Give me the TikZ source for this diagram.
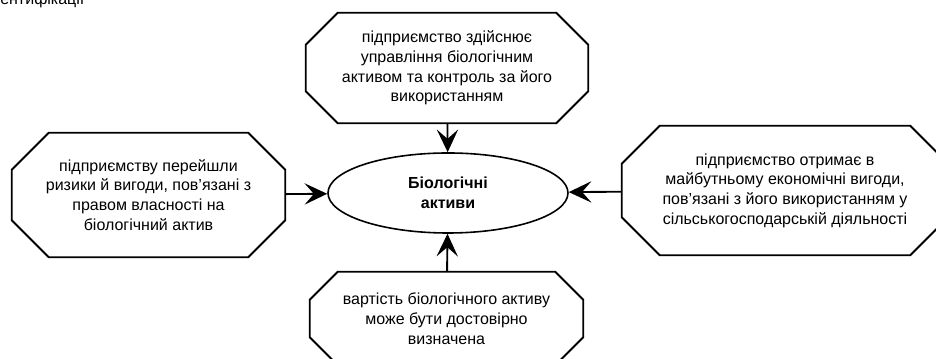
\documentclass[tikz,border=0pt]{standalone}
\usepackage{fontspec}
\setmainfont{Liberation Sans}
\usetikzlibrary{scopes,calc,arrows.meta,shapes.geometric}

\begin{document}
\begin{tikzpicture}[
    x=0.75pt, y=0.75pt,
    txt/.style={font=\fontsize{12}{14.8}\selectfont, align=center, inner sep=0pt},
    box/.style 2 args={txt, rectangle, minimum width=#1, minimum height=#2},
    frame/.style={draw=black, line width=1.4pt, line join=miter},
    core/.style={ellipse, draw=black, line width=1.2pt, minimum width=180pt, minimum height=60pt,
        inner sep=0pt, align=center, font=\fontsize{12}{14.8}\selectfont\bfseries},
    arrow/.style={-{Stealth[length=17pt,width=16pt,inset=7pt]}, line width=1.4pt},
]

    \useasboundingbox (0,0) rectangle (936,359);

    %%%
    % cut line of the text above
    \node[txt, anchor=base west] (frag) at (0,354) {ентифікації};

    %%%
    % centre
    \node[core] (bio) at (448,166) {Біологічні\\активи};

    %%%
    % conditions round it
    \node[box={211.5pt}{82.5pt}] (ctrl) at (447,291)
        {підприємство здійснює\\управління біологічним\\активом та контроль за його\\використанням};
    \node[box={204.75pt}{93pt}] (risk) at (148.5,164)
        {підприємству перейшли\\ризики й вигоди, пов'язані з\\правом власності на\\біологічний актив};
    \node[box={244.5pt}{96.75pt}] (benefit) at (785,168.5)
        {підприємство отримає в\\майбутньому економічні вигоди,\\пов'язані з його використанням у\\сільськогосподарській діяльності};
    \node[box={204.75pt}{69.75pt}] (cost) at (446.5,40.5)
        {вартість біологічного активу\\може бути достовірно\\визначена};

    {[arrow]
        \draw (ctrl) -- (bio);
        \draw (risk) -- (bio);
        \draw (benefit) -- (bio);
        \draw (cost) -- (bio);
    }

    % octagon frames
    \foreach \n/\c in {ctrl/32, risk/37, benefit/38, cost/28}
    \draw[frame] ($(\n.north west)+(\c,0)$) -- ($(\n.north east)-(\c,0)$)
        -- ($(\n.north east)-(0,\c)$) -- ($(\n.south east)+(0,\c)$)
        -- ($(\n.south east)-(\c,0)$) -- ($(\n.south west)+(\c,0)$)
        -- ($(\n.south west)+(0,\c)$) -- ($(\n.north west)-(0,\c)$) -- cycle;

\end{tikzpicture}
\end{document}
